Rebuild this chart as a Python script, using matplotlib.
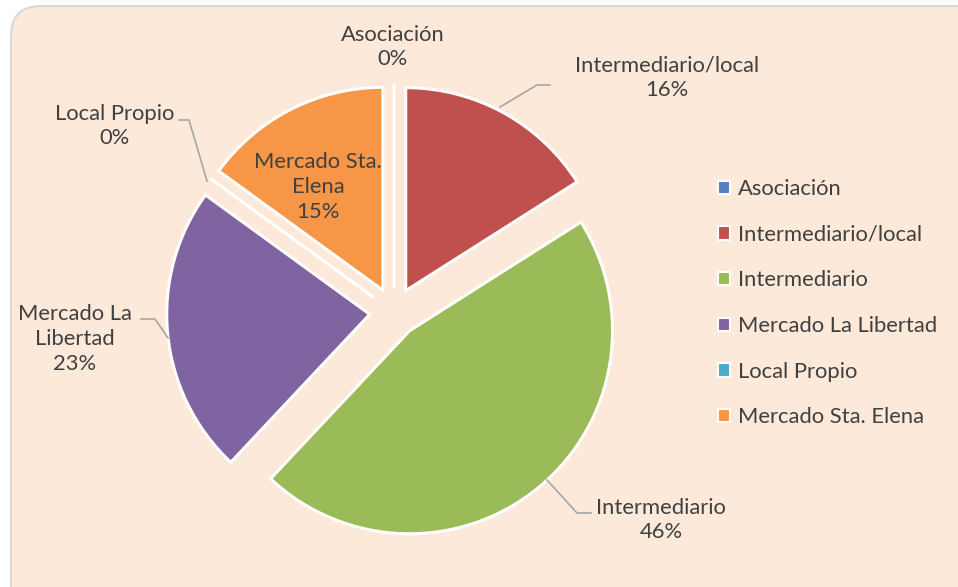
import matplotlib.pyplot as plt
from matplotlib.patches import FancyBboxPatch

plt.rcParams['font.family'] = ['Lato', 'DejaVu Sans']

categories = ['Asociación', 'Intermediario/local', 'Intermediario',
              'Mercado La Libertad', 'Local Propio', 'Mercado Sta. Elena']
values = [0, 16, 46, 23, 0, 15]
colors = ['#4F81BD', '#C0504D', '#9BBB59', '#8064A2', '#4BACC6', '#F79646']
label_names = ['Asociación', 'Intermediario/local', 'Intermediario',
               'Mercado La\nLibertad', 'Local Propio', 'Mercado Sta.\nElena']

W, H = 958, 587
fig = plt.figure(figsize=(W / 100, H / 100), dpi=100)
fig.patch.set_facecolor('white')

# background panel in pixel coords
bg = fig.add_axes([0, 0, 1, 1])
bg.set_xlim(0, W)
bg.set_ylim(H, 0)
bg.axis('off')
bg.add_patch(FancyBboxPatch((11, 6), W + 20, H + 30,
                            boxstyle='round,pad=0,rounding_size=30',
                            facecolor='#FDE9DA', edgecolor='#D9D9D9', lw=1.5))

# pie axes: centre at (394, 312) px, radius 203 px
cx, cy, R = 394, 312, 203
L = 1.5
side = 2 * L * R
ax = fig.add_axes([(cx - side / 2) / W, (H - cy - side / 2) / H, side / W, side / H])

wedges, _ = ax.pie(values, colors=colors, startangle=90, counterclock=False,
                   explode=[0.12] * len(values), radius=1,
                   wedgeprops=dict(edgecolor='white', linewidth=2.2))
ax.set_xlim(-L, L)
ax.set_ylim(-L, L)
ax.axis('off')

def px(x, y):
    return (x - cx) / R, (cy - y) / R

fs = 15.8
txt = dict(fontsize=fs, color='#404040', ha='center', va='center', linespacing=1.3)
label_pos = [(393, 47), (667, 78), (661, 520), (75, 339), (115, 126), (318, 187)]
for name, v, (x, y) in zip(label_names, values, label_pos):
    ax.text(*px(x, y), f'{name}\n{v}%', **txt)

leaders = [
    [(500, 107), (537, 85), (550, 85)],
    [(547, 480), (577, 513), (591, 513)],
    [(168, 338), (155, 319), (141, 319)],
    [(207, 181), (189, 120), (179, 120)],
]
for pts in leaders:
    xs, ys = zip(*[px(x, y) for x, y in pts])
    ax.plot(xs, ys, color='#A6A6A6', lw=1.2)

leg = ax.legend(wedges, categories, loc='upper left',
                bbox_to_anchor=((718 - (cx - side / 2)) / side, 1 - (179 - (cy - side / 2)) / side),
                frameon=False, fontsize=fs, labelcolor='#404040',
                handlelength=0.55, handleheight=0.55, handletextpad=0.35,
                labelspacing=1.17, borderaxespad=0, borderpad=0)
for h in leg.legend_handles:
    h.set_edgecolor('white')
    h.set_linewidth(1.5)

fig.savefig('out.png', dpi=100, facecolor=fig.get_facecolor())
